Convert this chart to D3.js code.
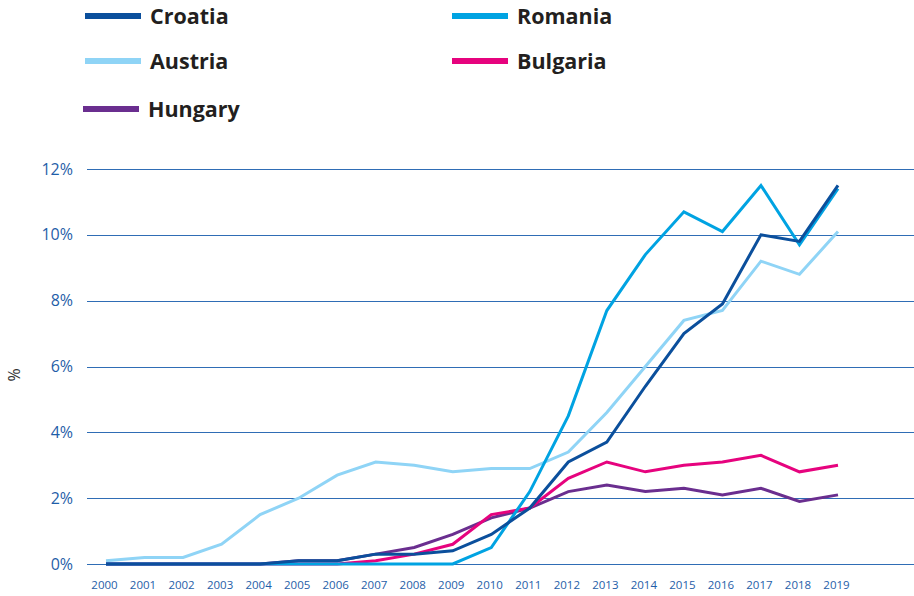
<!DOCTYPE html>
<html><head><meta charset="utf-8">
<script src="https://cdn.jsdelivr.net/npm/d3@7"></script>
<style>html,body{margin:0;padding:0;background:#fff;}svg{display:block;}</style>
</head><body>
<svg id="c" width="914" height="596"></svg>
<script>
const years = [2000,2001,2002,2003,2004,2005,2006,2007,2008,2009,2010,2011,2012,2013,2014,2015,2016,2017,2018,2019];
const croatia  = [0,0,0,0,0,0.1,0.1,0.3,0.3,0.4,0.9,1.7,3.1,3.7,5.4,7.0,7.9,10.0,9.8,11.5];
const romania  = [0,0,0,0,0,0,0,0,0,0,0.5,2.2,4.5,7.7,9.4,10.7,10.1,11.5,9.7,11.4];
const austria  = [0.1,0.2,0.2,0.6,1.5,2.0,2.7,3.1,3.0,2.8,2.9,2.9,3.4,4.6,6.0,7.4,7.7,9.2,8.8,10.1];
const bulgaria = [0,0,0,0,0,0,0,0.1,0.3,0.6,1.5,1.7,2.6,3.1,2.8,3.0,3.1,3.3,2.8,3.0];
const hungary  = [0,0,0,0,0,0.1,0.1,0.3,0.5,0.9,1.4,1.7,2.2,2.4,2.2,2.3,2.1,2.3,1.9,2.1];
const yTicks = [0,2,4,6,8,10,12];
const seriesNames = ["Croatia","Romania","Austria","Bulgaria","Hungary"];
const seriesColors = ["#0b4f9c","#00a3e2","#8fd4f6","#e6037e","#6a2e8f"];
const seriesValues = [croatia, romania, austria, bulgaria, hungary];

const svg = d3.select("#c");
const x = d3.scalePoint().domain(years).range([106, 838]);
const y = d3.scaleLinear().domain([0,12]).range([564, 169]);

// gridlines
const yAxis = d3.axisLeft(y).tickValues(yTicks).tickSize(-(914-87)).tickFormat(d => d + "%").tickPadding(14);
const gy = svg.append("g").attr("transform","translate(87,0)").call(yAxis);
gy.select(".domain").remove();
gy.selectAll(".tick line").attr("stroke","#2f6db5").attr("stroke-width",1).attr("shape-rendering","crispEdges");
gy.selectAll(".tick text").attr("fill","#1f5ea8").attr("font-family","'Open Sans', sans-serif").attr("font-size","16px");

// x axis labels
const xAxis = d3.axisBottom(x).tickSize(0).tickPadding(0);
const gx = svg.append("g").attr("transform","translate(-2,581)").call(xAxis);
gx.select(".domain").remove();
gx.selectAll(".tick text").attr("fill","#1f5ea8").attr("font-family","'Open Sans', sans-serif").attr("font-size","11.5px").attr("dy","0.71em");

// y label
svg.append("text").attr("transform","translate(20,375) rotate(-90)").attr("text-anchor","middle")
  .attr("font-family","'Open Sans', sans-serif").attr("font-size","16px").attr("fill","#333").text("%");

// lines; draw order: Austria, Hungary, Bulgaria, Romania, Croatia
const line = d3.line().x((d,i) => x(years[i])).y(d => y(d));
const order = [2,4,3,1,0];
order.forEach(k => {
  svg.append("path").datum(seriesValues[k]).attr("d", line)
    .attr("fill","none").attr("stroke", seriesColors[k]).attr("stroke-width",3)
    .attr("stroke-linejoin","miter").attr("stroke-linecap","butt");
});

// legend
const legendPos = [[85,16],[452,16],[85,61],[452,61],[83,109]];
seriesNames.forEach((n,i) => {
  const [lx,ly] = legendPos[i];
  svg.append("line").attr("x1",lx).attr("x2",lx+56).attr("y1",ly).attr("y2",ly)
    .attr("stroke",seriesColors[i]).attr("stroke-width",6);
  svg.append("text").attr("x",lx+65).attr("y",ly).attr("dy","0.35em")
    .attr("font-family","'Open Sans', sans-serif").attr("font-weight","bold").attr("font-size","21.5px")
    .attr("fill","#231f20").text(n);
});
</script>
</body></html>
